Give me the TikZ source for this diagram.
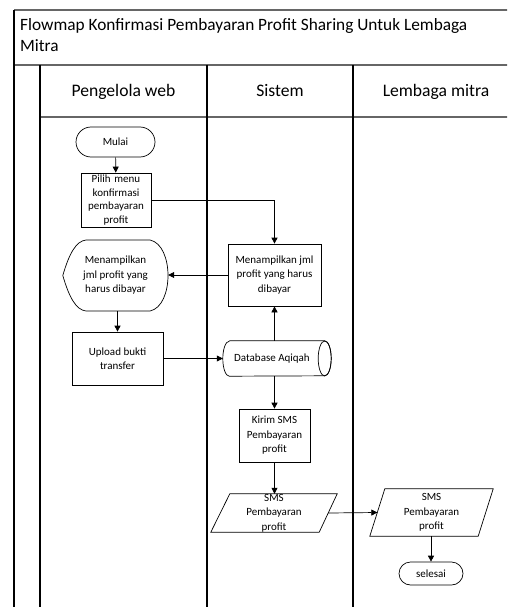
\documentclass[tikz,border=0pt]{standalone}
\usepackage{fontspec}
\setmainfont{Carlito}
\usetikzlibrary{arrows.meta,calc}
\begin{document}
\begin{tikzpicture}[x=1pt,y=-1pt,
  lane/.style={line width=1.2pt,black},
  sep/.style={line width=1.3pt,black!60},
  head/.style={anchor=base,inner sep=0pt,font=\fontsize{17.6}{21}\selectfont},
  box/.style={draw,line width=0.7pt,rectangle,inner sep=0pt,align=center,
    font=\fontsize{11}{14.5}\selectfont},
  term/.style={box,rounded corners=#1},
  ghost/.style={rectangle,inner sep=0pt,align=center,
    font=\fontsize{11}{14.5}\selectfont},
  shp/.style={draw,line width=0.7pt},
  arr/.style={line width=0.7pt,-{Triangle[length=6pt,width=6pt]}},
  ln/.style={line width=0.7pt}]
\useasboundingbox (0,0) rectangle (507,607);
\fill[white] (0,0) rectangle (507,607);
\begin{scope}
\clip (0,0) rectangle (507,607);
% swimlane frame
\draw[sep] (14,10) -- (530,10);
\draw[sep] (14,65) -- (530,65);
\draw[sep] (40,117) -- (530,117);
\draw[lane] (14,10) -- (14,620);
\draw[lane] (40,65) -- (40,620);
\draw[lane] (207,65) -- (207,620);
\draw[lane] (353,65) -- (353,620);
\end{scope}
% title and lane headings
\node[anchor=north west,inner sep=0pt,
  font=\fontsize{17.3}{21}\selectfont,
  align=left] (title) at (20,18)
  {Flowmap Konfirmasi Pembayaran Profit Sharing Untuk Lembaga\\Mitra};
\node[head] (h1) at (123.5,97) {Pengelola web};
\node[head] (h2) at (280,97) {Sistem};
\node[head] (h3) at (436,97) {Lembaga mitra};

% process nodes
\node[term=15pt,minimum width=79pt,minimum height=30pt] (mulai) at (115.5,142) {Mulai};
\node[box,minimum width=70pt,minimum height=54pt,text width=70pt,
  font=\fontsize{11}{13.4}\selectfont] (pilih) at (116,200)
  {Pilih menu\\konfirmasi\\pembayaran\\profit};
\node[box,minimum width=93pt,minimum height=62pt] (sys) at (274.5,275)
  {Menampilkan jml\\profit yang harus\\dibayar};
\node[ghost,minimum width=105pt,minimum height=71pt] (disp) at (115.5,275.5)
  {Menampilkan\\jml profit yang\\harus dibayar};
\node[box,minimum width=91pt,minimum height=53pt] (upload) at (117.5,358.5)
  {Upload bukti\\transfer};
\node[ghost,minimum width=108pt,minimum height=35pt] (db) at (277,358.5) {};
\node[ghost] (dbtext) at (272,358.5) {Database Aqiqah};
\node[box,minimum width=71pt,minimum height=53pt] (kirim) at (274.5,435.5)
  {Kirim SMS\\Pembayaran\\profit};
\node[ghost,minimum width=126pt,minimum height=38pt] (p1) at (274,513) {};
\node[ghost] (p1text) at (274,513) {SMS\\Pembayaran\\profit};
\node[ghost,minimum width=123pt,minimum height=47pt] (p2) at (431.5,512.5) {};
\node[ghost] (p2text) at (431.5,512.5) {SMS\\Pembayaran\\profit};
\node[term=11.5pt,minimum width=64pt,minimum height=23pt] (selesai) at (431,573.5) {selesai};

% display shape
\draw[shp] (disp.west) .. controls (69,254) and (76,241) .. (86,240) -- (150,240)
  .. controls (174,245) and (174,306) .. (150,311) -- (86,311)
  .. controls (76,310) and (69,297) .. (disp.west);
% database cylinder
\draw[shp] ([xshift=6.5pt]db.north west) -- ([xshift=-6.5pt]db.north east)
  arc[start angle=90,end angle=-90,x radius=6.5pt,y radius=17.5pt]
  -- ([xshift=6.5pt]db.south west)
  arc[start angle=270,end angle=90,x radius=6.5pt,y radius=17.5pt];
\draw[shp] ([xshift=-6.5pt]db.east) ellipse[x radius=6.5pt,y radius=17.5pt];
% parallelograms
\draw[shp] ([xshift=19pt]p1.north west) -- (p1.north east)
  -- ([xshift=-18pt]p1.south east) -- (p1.south west) -- cycle;
\draw[shp] ([xshift=15pt]p2.north west) -- (p2.north east)
  -- ([xshift=-15pt]p2.south east) -- (p2.south west) -- cycle;
\coordinate (p1r) at ([xshift=-9pt]p1.east);
\coordinate (p2l) at ([xshift=7.5pt]p2.west);

% connectors
\draw[arr] (mulai) -- (pilih);
\draw[arr] (pilih.east) -| (sys.north);
\draw[arr] (sys.west) -- (sys.west -| disp.east);
\draw[arr] (upload.north |- disp.south) -- (upload.north);
\draw[arr] (upload.east) -- (db.west);
\draw[arr] (sys.south |- db.north) -- (sys.south);
\draw[arr] (sys.south |- db.south) -- (kirim.north);
\draw[arr] (kirim.south) -- (kirim.south |- p1.north);
\draw[arr] (p1r) -- (p2l);
\draw[arr] (p2.south -| selesai.north) -- (selesai.north);
\end{tikzpicture}
\end{document}
